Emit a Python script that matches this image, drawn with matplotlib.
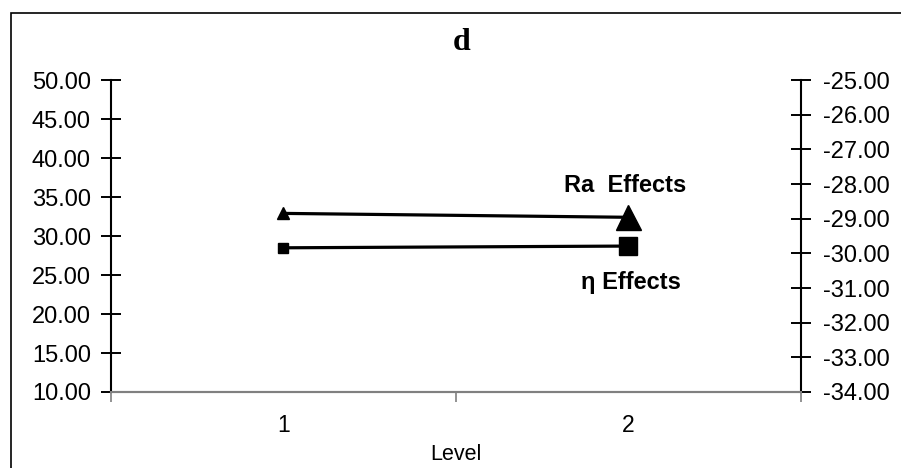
import matplotlib
matplotlib.use("Agg")
import matplotlib.pyplot as plt
from matplotlib.patches import Rectangle

# values
levels = [1, 2]
ra_effects = [32.9, 32.4]        # left axis
eta_effects = [-29.84, -29.79]   # right axis (S/N, dB)
left_ticks = [10, 15, 20, 25, 30, 35, 40, 45, 50]
right_ticks = [-34, -33, -32, -31, -30, -29, -28, -27, -26, -25]

plt.rcParams['font.family'] = ['Liberation Sans', 'DejaVu Sans']

fig = plt.figure(figsize=(9.01, 4.68), dpi=100)
ax = fig.add_axes([0.1232, 0.1624, 0.889 - 0.1232, 0.829 - 0.1624])
ax2 = ax.twinx()

# outer chart border (Excel style)
fig.patches.append(Rectangle((10.5 / 901, -0.05), 1.1, 1 - 12.5 / 468 + 0.05,
                             transform=fig.transFigure, fill=False,
                             edgecolor='black', linewidth=1.2, clip_on=False))

# Ra line: small marker at level 1, big one at level 2
ax.plot(levels, ra_effects, color='black', linewidth=2.3, zorder=3)
ax.plot(levels[0], ra_effects[0], marker='^', color='black', markersize=8, zorder=4)
ax.plot(levels[1], ra_effects[1], marker='^', color='black', markersize=18, zorder=4)

ax2.plot(levels, eta_effects, color='black', linewidth=2.3, zorder=3)
ax2.plot(levels[0], eta_effects[0], marker='s', color='black', markersize=6.5, zorder=4)
ax2.plot(levels[1], eta_effects[1], marker='s', color='black', markersize=13, zorder=4)

ax.set_xlim(0.5, 2.5)
ax.set_ylim(10, 50)
ax2.set_ylim(-34, -25)

ax.set_yticks(left_ticks)
ax.set_yticklabels([f"{v:.2f}" for v in left_ticks])
ax2.set_yticks(right_ticks)
ax2.set_yticklabels([f"{v:.2f}" for v in right_ticks])

ax.set_xticks(levels)
ax.set_xticklabels([str(v) for v in levels])
ax.set_xticks([0.5, 1.5, 2.5], minor=True)
ax.tick_params(axis='x', which='major', length=0, labelsize=16.5, pad=16)
ax.tick_params(axis='x', which='minor', length=7, width=1.2, color='#808080', direction='out')
ax.tick_params(axis='y', direction='inout', length=15, width=1.4, labelsize=17, pad=7)
ax2.tick_params(axis='y', direction='inout', length=15, width=1.4, labelsize=17, pad=8)

for a in (ax, ax2):
    a.spines['top'].set_visible(False)
    a.spines['bottom'].set_color('#808080')
    a.spines['bottom'].set_linewidth(1.5)
    a.spines['left'].set_linewidth(1.5)
    a.spines['right'].set_linewidth(1.5)
ax2.spines['left'].set_visible(False)
ax.spines['right'].set_visible(False)

ax.set_xlabel('Level', fontsize=15.5, labelpad=5)

fig.text(462 / 901, 1 - 42 / 468, 'd', fontsize=23, fontweight='bold',
         family=['Liberation Serif', 'DejaVu Serif'], ha='center', va='center')

ax.annotate('Ra  Effects', xy=(625 / 901, 1 - 186 / 468), xycoords='figure fraction',
            fontsize=17, fontweight='bold', ha='center', va='center')
ax.annotate('η Effects', xy=(631 / 901, 1 - 283 / 468), xycoords='figure fraction',
            fontsize=17, fontweight='bold', ha='center', va='center')

fig.savefig('out.png', dpi=100)
